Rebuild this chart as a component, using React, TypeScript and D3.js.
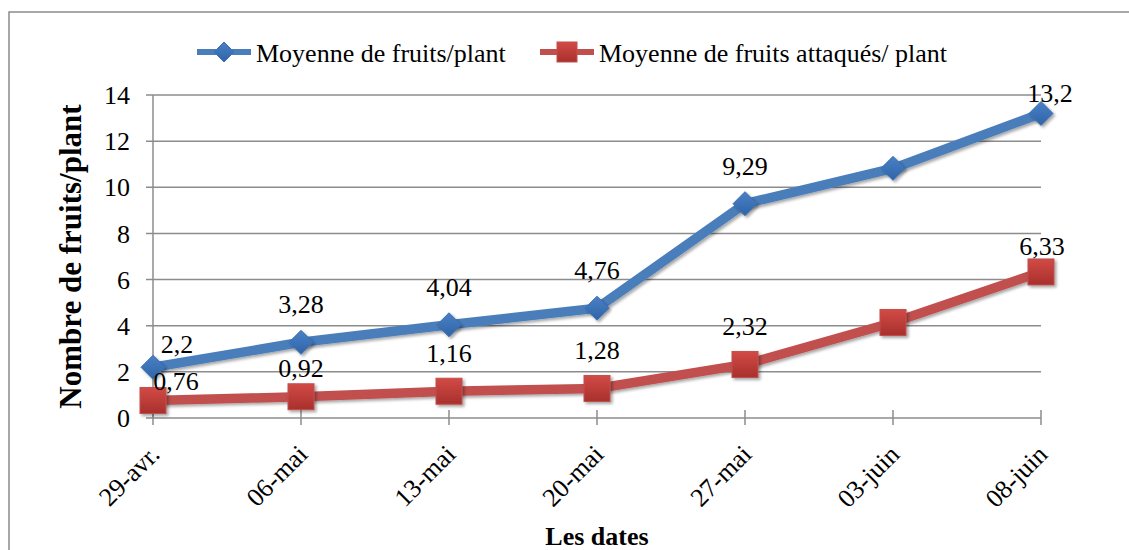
import React, { useEffect, useRef } from 'react';
import * as d3 from 'd3';

const dates = ['29-avr.', '06-mai', '13-mai', '20-mai', '27-mai', '03-juin', '08-juin'];
const fruitsPerPlant = [2.2, 3.28, 4.04, 4.76, 9.29, 10.82, 13.2];
const attackedPerPlant = [0.76, 0.92, 1.16, 1.28, 2.32, 4.14, 6.33];
// labels shown by the chart (null = not shown)
const fruitsLabels = ['2,2', '3,28', '4,04', '4,76', '9,29', null, '13,2'];
const attackedLabels = ['0,76', '0,92', '1,16', '1,28', '2,32', null, '6,33'];
const yTicks = [0, 2, 4, 6, 8, 10, 12, 14];

const seriesNames = ['Moyenne de fruits/plant', 'Moyenne de fruits attaqués/ plant'];

function App() {
  const ref = useRef<SVGSVGElement>(null);

  const width = 1129;
  const height = 550;
  const margin = { top: 95, right: 88, bottom: 132, left: 153 };
  const font = '"Liberation Serif", "Times New Roman", serif';
  const fs = '26px';

  useEffect(() => {
    document.body.style.margin = '0';
    const svg = d3.select(ref.current);
    svg.selectAll('*').remove();

    const defs = svg.append('defs');
    const shadow = defs.append('filter').attr('id', 'shadow').attr('x', '-50%').attr('y', '-50%').attr('width', '200%').attr('height', '200%');
    shadow.append('feDropShadow').attr('dx', 2).attr('dy', 2).attr('stdDeviation', 1.5).attr('flood-color', '#000').attr('flood-opacity', 0.35);

    const gBlue = defs.append('linearGradient').attr('id', 'gBlue').attr('x1', 0).attr('y1', 0).attr('x2', 0).attr('y2', 1);
    gBlue.append('stop').attr('offset', '0%').attr('stop-color', '#4a80c6');
    gBlue.append('stop').attr('offset', '100%').attr('stop-color', '#2f64a8');
    const gRed = defs.append('linearGradient').attr('id', 'gRed').attr('x1', 0).attr('y1', 0).attr('x2', 0).attr('y2', 1);
    gRed.append('stop').attr('offset', '0%').attr('stop-color', '#d24a46');
    gRed.append('stop').attr('offset', '100%').attr('stop-color', '#a8302c');

    // outer frame
    svg.append('rect')
      .attr('x', 9).attr('y', 12)
      .attr('width', 1140).attr('height', 560)
      .attr('fill', '#fff')
      .attr('stroke', '#8c8c8c')
      .attr('stroke-width', 1.5);

    const x = d3.scalePoint<string>()
      .domain(dates)
      .range([margin.left, width - margin.right]);

    const y = d3.scaleLinear()
      .domain([0, 14])
      .range([height - margin.bottom, margin.top]);

    // grid
    svg.append('g')
      .selectAll('line')
      .data(yTicks)
      .enter()
      .append('line')
      .attr('x1', margin.left - 7)
      .attr('x2', width - margin.right)
      .attr('y1', (d) => y(d))
      .attr('y2', (d) => y(d))
      .attr('stroke', '#8c8c8c')
      .attr('stroke-width', 1.5);

    // y axis line
    svg.append('line')
      .attr('x1', margin.left).attr('x2', margin.left)
      .attr('y1', y(14)).attr('y2', y(0))
      .attr('stroke', '#8c8c8c').attr('stroke-width', 1.5);

    // x ticks
    svg.append('g')
      .selectAll('line')
      .data(dates)
      .enter()
      .append('line')
      .attr('x1', (d) => x(d)!)
      .attr('x2', (d) => x(d)!)
      .attr('y1', y(0) - 8)
      .attr('y2', y(0) + 7)
      .attr('stroke', '#8c8c8c')
      .attr('stroke-width', 1.5);

    // y tick labels
    svg.append('g')
      .selectAll('text')
      .data(yTicks)
      .enter()
      .append('text')
      .attr('x', margin.left - 23)
      .attr('y', (d) => y(d))
      .attr('dy', '0.35em')
      .attr('text-anchor', 'end')
      .style('font-family', font)
      .style('font-size', fs)
      .text((d) => d);

    // x tick labels
    svg.append('g')
      .selectAll('text')
      .data(dates)
      .enter()
      .append('text')
      .attr('transform', (d) => `translate(${x(d)! + 8},${y(0) + 38}) rotate(-45)`)
      .attr('text-anchor', 'end')
      .style('font-family', font)
      .style('font-size', fs)
      .text((d) => d);

    // axis titles
    svg.append('text')
      .attr('transform', `translate(81,${(margin.top + height - margin.bottom) / 2}) rotate(-90)`)
      .attr('text-anchor', 'middle')
      .style('font-family', font)
      .style('font-size', '31px')
      .style('font-weight', 'bold')
      .text('Nombre de fruits/plant');

    svg.append('text')
      .attr('x', (margin.left + width - margin.right) / 2)
      .attr('y', 545)
      .attr('text-anchor', 'middle')
      .style('font-family', font)
      .style('font-size', fs)
      .style('font-weight', 'bold')
      .text('Les dates');

    const line = d3.line<number>()
      .x((d, i) => x(dates[i])!)
      .y((d) => y(d));

    const diamond = (cx: number, cy: number, r: number) =>
      `M${cx},${cy - r}L${cx + r},${cy}L${cx},${cy + r}L${cx - r},${cy}Z`;

    // red series
    svg.append('path')
      .datum(attackedPerPlant)
      .attr('d', line)
      .attr('fill', 'none')
      .attr('stroke', '#c0504d')
      .attr('stroke-width', 9.5)
      .attr('filter', 'url(#shadow)');

    // blue series
    svg.append('path')
      .datum(fruitsPerPlant)
      .attr('d', line)
      .attr('fill', 'none')
      .attr('stroke', '#4a7ebb')
      .attr('stroke-width', 9.5)
      .attr('filter', 'url(#shadow)');

    svg.append('g')
      .selectAll('rect')
      .data(attackedPerPlant)
      .enter()
      .append('rect')
      .attr('x', (d, i) => x(dates[i])! - 13)
      .attr('y', (d) => y(d) - 13)
      .attr('width', 26)
      .attr('height', 26)
      .attr('fill', 'url(#gRed)')
      .attr('stroke', '#c0504d')
      .attr('stroke-width', 1)
      .attr('filter', 'url(#shadow)');

    svg.append('g')
      .selectAll('path')
      .data(fruitsPerPlant)
      .enter()
      .append('path')
      .attr('d', (d, i) => diamond(x(dates[i])!, y(d), 12))
      .attr('fill', 'url(#gBlue)')
      .attr('stroke', '#3b6fb3')
      .attr('stroke-width', 1)
      .attr('filter', 'url(#shadow)');

    // data labels
    const nudge = (i: number, last: number) => {
      if (i === 0) return [24, -14];
      if (i === last) return [9, -11];
      return [0, -29];
    };

    svg.append('g')
      .selectAll('text')
      .data(fruitsLabels)
      .enter()
      .filter((d) => d !== null)
      .append('text')
      .attr('x', (d) => x(dates[fruitsLabels.indexOf(d)])! + nudge(fruitsLabels.indexOf(d), 6)[0])
      .attr('y', (d) => y(fruitsPerPlant[fruitsLabels.indexOf(d)]) + nudge(fruitsLabels.indexOf(d), 6)[1])
      .attr('text-anchor', 'middle')
      .style('font-family', font)
      .style('font-size', fs)
      .text((d) => d as string);

    const redNudge = (i: number) => {
      if (i === 0) return [23, -10];
      if (i === 1) return [0, -20];
      if (i === 6) return [1, -17];
      return [0, -29];
    };

    svg.append('g')
      .selectAll('text')
      .data(attackedLabels)
      .enter()
      .filter((d) => d !== null)
      .append('text')
      .attr('x', (d) => x(dates[attackedLabels.indexOf(d)])! + redNudge(attackedLabels.indexOf(d))[0])
      .attr('y', (d) => y(attackedPerPlant[attackedLabels.indexOf(d)]) + redNudge(attackedLabels.indexOf(d))[1])
      .attr('text-anchor', 'middle')
      .style('font-family', font)
      .style('font-size', fs)
      .text((d) => d as string);

    // legend
    const legend = svg.append('g');
    const items = [
      { name: seriesNames[0], color: '#4a7ebb', x0: 197, shape: 'diamond' },
      { name: seriesNames[1], color: '#c0504d', x0: 540, shape: 'square' },
    ];
    items.forEach((it) => {
      legend.append('line')
        .attr('x1', it.x0).attr('x2', it.x0 + 54)
        .attr('y1', 52).attr('y2', 52)
        .attr('stroke', it.color).attr('stroke-width', 6);
      if (it.shape === 'diamond') {
        legend.append('path')
          .attr('d', diamond(it.x0 + 27, 52, 10))
          .attr('fill', 'url(#gBlue)')
          .attr('stroke', '#3b6fb3');
      } else {
        legend.append('rect')
          .attr('x', it.x0 + 27 - 10).attr('y', 42)
          .attr('width', 20).attr('height', 20)
          .attr('fill', 'url(#gRed)')
          .attr('stroke', '#c0504d');
      }
      legend.append('text')
        .attr('x', it.x0 + 59)
        .attr('y', 53)
        .attr('dy', '0.35em')
        .style('font-family', font)
        .style('font-size', fs)
        .text(it.name);
    });
  }, []);

  return <svg ref={ref} width={width} height={height} style={{ display: 'block' }} />;
}

export default App;
